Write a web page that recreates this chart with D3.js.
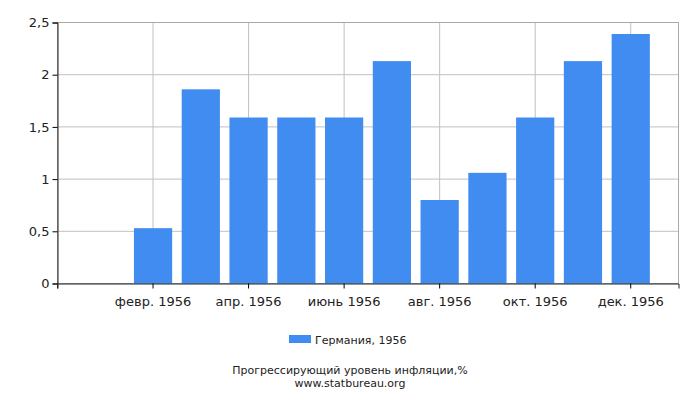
<!DOCTYPE html>
<html>
<head>
<meta charset="utf-8">
<script src="https://cdn.jsdelivr.net/npm/d3@7"></script>
<style>
  body { margin: 0; background: #fff; }
  text { font-family: "DejaVu Sans", sans-serif; fill: #222; }
</style>
</head>
<body>
<div id="chart"></div>
<script>
// data
const months = ["янв. 1956", "февр. 1956", "март 1956", "апр. 1956", "май 1956", "июнь 1956",
                "июль 1956", "авг. 1956", "сент. 1956", "окт. 1956", "нояб. 1956", "дек. 1956"];
const values = [0, 0.53, 1.86, 1.59, 1.59, 1.59, 2.13, 0.80, 1.06, 1.59, 2.13, 2.39];
const labelledMonths = ["февр. 1956", "апр. 1956", "июнь 1956", "авг. 1956", "окт. 1956", "дек. 1956"];
const yTicks = [0, 0.5, 1, 1.5, 2, 2.5];
const seriesName = "Германия, 1956";
const chartTitle = "Прогрессирующий уровень инфляции,%";
const siteName = "www.statbureau.org";

const W = 700, H = 400;
const margin = {top: 22.5, right: 21.5, bottom: 116.5, left: 57.5};
const width = W - margin.left - margin.right,
      height = H - margin.top - margin.bottom;

const svg = d3.select("#chart").append("svg")
    .attr("width", W)
    .attr("height", H);

const g = svg.append("g")
    .attr("transform", `translate(${margin.left},${margin.top})`);

// scales
const x = d3.scaleBand()
    .domain(months)
    .range([0, width])
    .paddingInner(0.2)
    .paddingOuter(0.6);

const y = d3.scaleLinear()
    .domain([0, 2.5])
    .range([height, 0]);

const fmt = d => String(d).replace(".", ",");
const cx = m => x(m) + x.bandwidth() / 2;

// horizontal grid
g.append("g")
    .selectAll("line")
    .data(yTicks)
    .join("line")
    .attr("x1", 0).attr("x2", width)
    .attr("y1", d => y(d)).attr("y2", d => y(d))
    .attr("stroke", "#c0c0c0");

// vertical grid
g.append("g")
    .selectAll("line")
    .data(labelledMonths)
    .join("line")
    .attr("x1", cx).attr("x2", cx)
    .attr("y1", 0).attr("y2", height)
    .attr("stroke", "#c0c0c0");

// frame
g.append("rect")
    .attr("width", width).attr("height", height)
    .attr("fill", "none")
    .attr("stroke", "#a8a8a8");

// bars
g.selectAll(".bar")
    .data(values)
    .join("rect")
    .attr("class", "bar")
    .attr("x", (d, i) => x(months[i]))
    .attr("width", x.bandwidth())
    .attr("y", d => y(d))
    .attr("height", d => height - y(d))
    .attr("fill", "#418cf0");

// y axis
const yAxis = g.append("g")
    .call(d3.axisLeft(y).tickValues(yTicks).tickFormat(fmt).tickSize(5).tickPadding(3));
yAxis.select(".domain").attr("stroke", "#222");
yAxis.selectAll("text").style("font-size", "13px").attr("fill", "#222");

// x axis
const xAxis = g.append("g")
    .attr("transform", `translate(0,${height})`)
    .call(d3.axisBottom(x).tickValues(labelledMonths).tickSize(5).tickPadding(8));
xAxis.select(".domain").attr("stroke", "#222");
xAxis.selectAll("text").style("font-size", "13px").attr("fill", "#222");
xAxis.append("line")
    .attr("x1", 0).attr("x2", 0).attr("y1", 0).attr("y2", 5)
    .attr("stroke", "#222");

// legend
const legend = svg.append("g").attr("transform", "translate(289,335)");
legend.append("rect")
    .attr("width", 22).attr("height", 8)
    .attr("fill", "#418cf0");
legend.append("text")
    .attr("x", 26).attr("y", 9)
    .style("font-size", "11px")
    .text(seriesName);

// captions
svg.append("text")
    .attr("x", 350).attr("y", 373.5)
    .attr("text-anchor", "middle")
    .style("font-size", "11px")
    .text(chartTitle);
svg.append("text")
    .attr("x", 350).attr("y", 386.5)
    .attr("text-anchor", "middle")
    .style("font-size", "11px")
    .text(siteName);
</script>
</body>
</html>
